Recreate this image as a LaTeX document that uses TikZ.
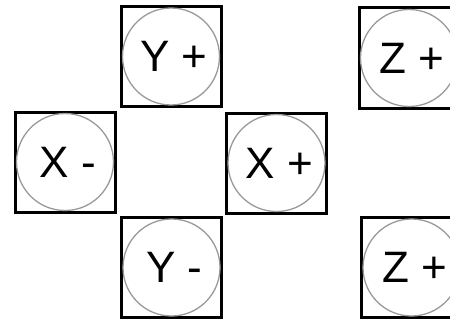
\documentclass[tikz,border=0pt]{standalone}
\usepackage{fontspec}
\setmainfont{Liberation Sans}
\begin{document}
\begin{tikzpicture}[x=1pt,y=-1pt,
  face/.style={draw=black,line width=3pt,minimum width=100pt,minimum height=100pt,inner sep=0pt,
    font=\fontsize{44}{50}\selectfont},
  ring/.style={draw=black!40,line width=1.3pt,circle,minimum size=97pt,inner sep=0pt}]
\useasboundingbox (0,0) rectangle (450,321);
\clip (0,0) rectangle (450,321);
\node[face] (yp) at (171,56.5) {};
\node[face] (xm) at (65,162) {};
\node[face] (xp) at (276.5,163) {};
\node[face] (ym) at (171.5,267.5) {};
\node[face] (zpt) at (409,58) {};
\node[face] (zpb) at (411.5,267.5) {};
\foreach \n/\t in {yp/Y +,xm/X -,xp/X +,ym/Y -,zpt/Z +,zpb/Z +}{
  \node[ring] (c\n) at (\n.center) {};
  \node[font=\fontsize{44}{50}\selectfont,inner sep=0pt] (t\n) at ([xshift=3pt]\n.center) {\t};
}
\end{tikzpicture}
\end{document}
